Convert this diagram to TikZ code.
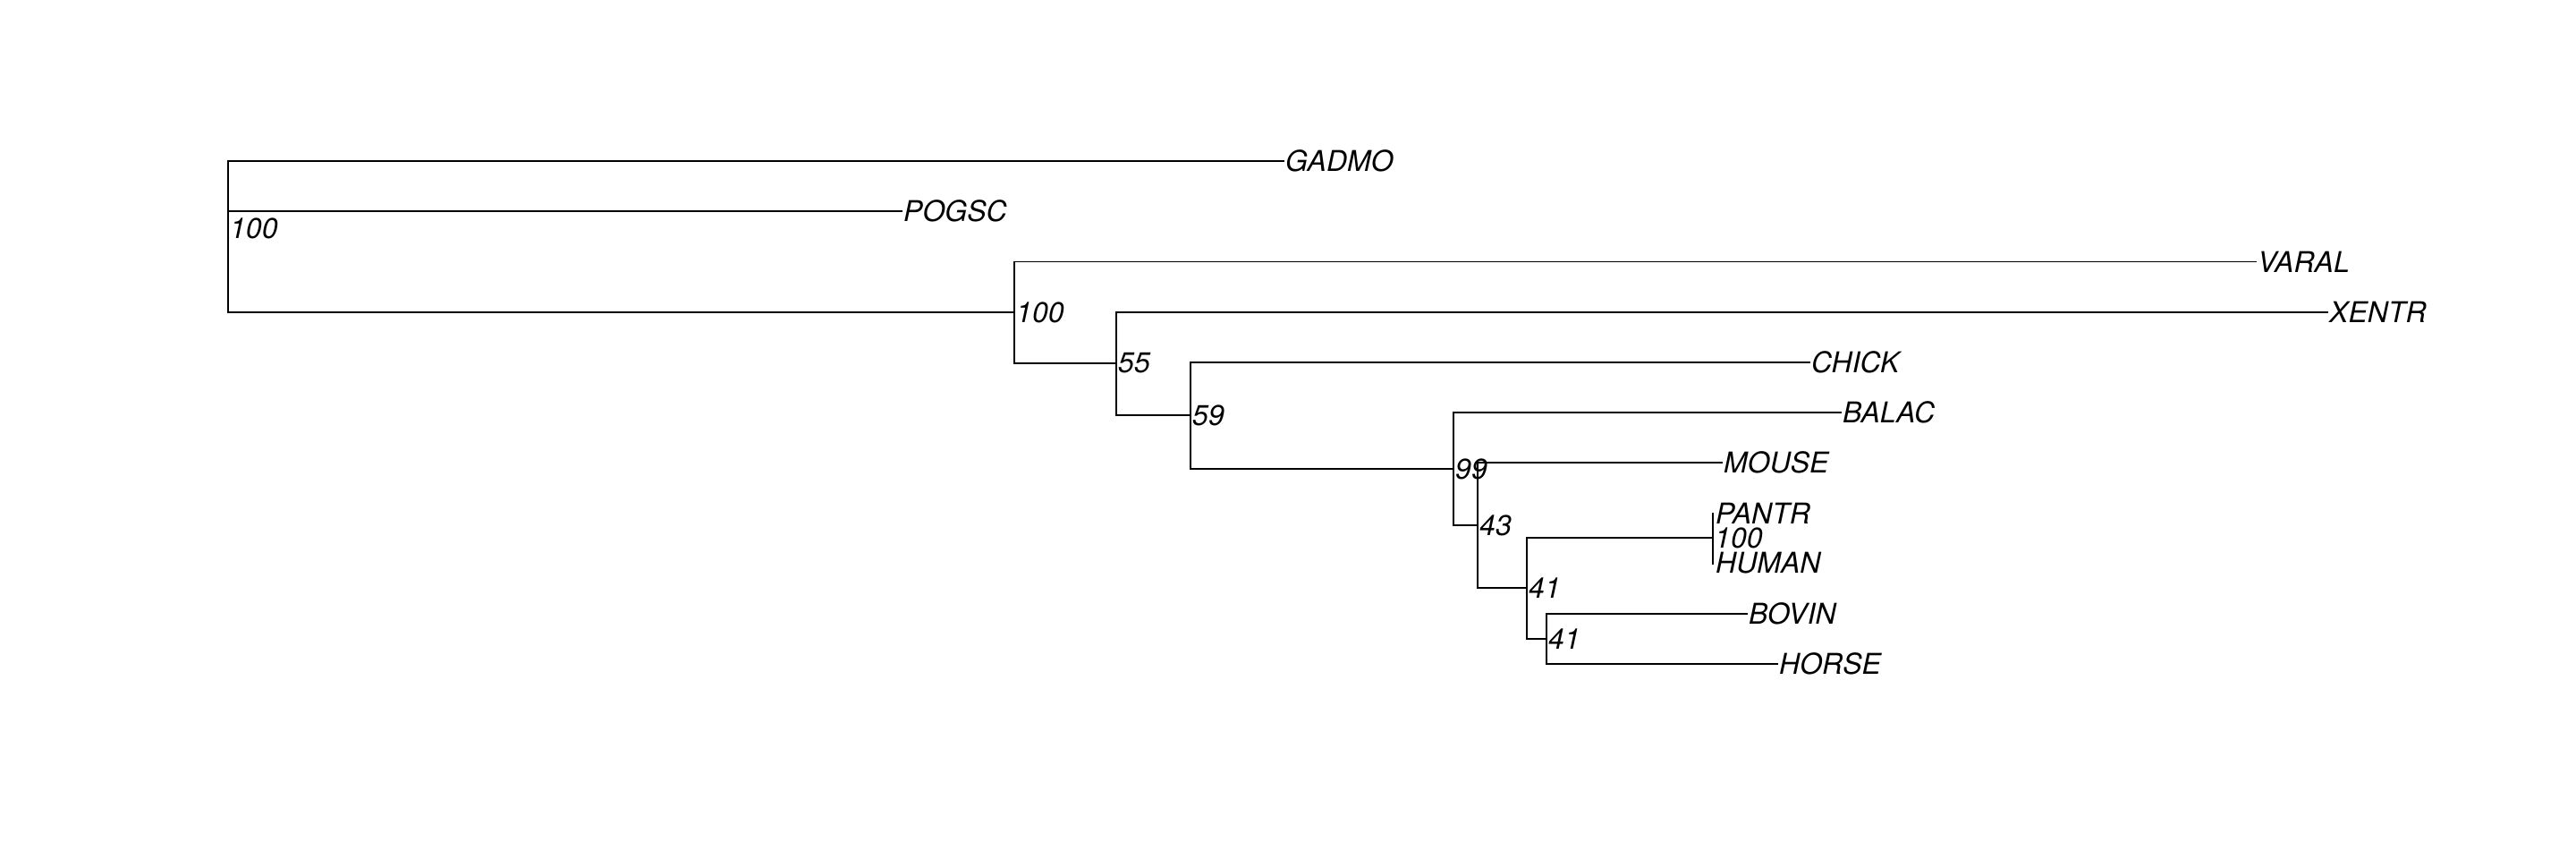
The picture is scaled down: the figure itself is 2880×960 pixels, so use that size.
\documentclass[tikz,border=0pt]{standalone}
\usepackage{fontspec}
\setmainfont{TeX Gyre Heros}
\tikzset{
  edge/.style={line width=1.8pt, line cap=rect},
  tiplab/.style={anchor=west, inner sep=2pt, font=\fontsize{32}{37}\selectfont\itshape},
  nodelab/.style={anchor=west, inner sep=2pt, font=\fontsize{32}{37}\selectfont\itshape}
}
\begin{document}
\begin{tikzpicture}[x=1pt,y=-1pt]
\useasboundingbox (0,0) rectangle (2880,960);
% internal nodes
\coordinate (r)    at (255,255);
\coordinate (n100) at (1134,349);
\coordinate (n55)  at (1248,406);
\coordinate (n59)  at (1331,464);
\coordinate (n99)  at (1625,524);
\coordinate (n43)  at (1652,587);
\coordinate (n41a) at (1707,657);
\coordinate (nph)  at (1915,601);
\coordinate (n41b) at (1729,714);
% tips
\coordinate (gadmo) at (1435,180);
\coordinate (pogsc) at (1008,236.2);
\coordinate (varal) at (2522,292.4);
\coordinate (xentr) at (2602,348.6);
\coordinate (chick) at (2023,404.8);
\coordinate (balac) at (2058,461);
\coordinate (mouse) at (1925,517.2);
\coordinate (pantr) at (1916,573.4);
\coordinate (human) at (1916,629.6);
\coordinate (bovin) at (1953,685.8);
\coordinate (horse) at (1987,742);
% vertical bars
\draw[edge] (r |- gadmo) -- (r |- n100);
\draw[edge] (n100 |- varal) -- (n100 |- n55);
\draw[edge] (n55 |- xentr) -- (n55 |- n59);
\draw[edge] (n59 |- chick) -- (n59 |- n99);
\draw[edge] (n99 |- balac) -- (n99 |- n43);
\draw[edge] (n43 |- mouse) -- (n43 |- n41a);
\draw[edge] (n41a |- nph) -- (n41a |- n41b);
\draw[edge] (nph |- pantr) -- (nph |- human);
\draw[edge] (n41b |- bovin) -- (n41b |- horse);
% horizontal branches
\draw[edge] (r |- gadmo) -- (gadmo);
\draw[edge] (r |- pogsc) -- (pogsc);
\draw[edge] (r |- n100) -- (n100);
\draw[edge] (n100 |- varal) -- (varal);
\draw[edge] (n100 |- n55) -- (n55);
\draw[edge] (n55 |- xentr) -- (xentr);
\draw[edge] (n55 |- n59) -- (n59);
\draw[edge] (n59 |- chick) -- (chick);
\draw[edge] (n59 |- n99) -- (n99);
\draw[edge] (n99 |- balac) -- (balac);
\draw[edge] (n99 |- n43) -- (n43);
\draw[edge] (n43 |- mouse) -- (mouse);
\draw[edge] (n43 |- n41a) -- (n41a);
\draw[edge] (n41a |- nph) -- (nph);
\draw[edge] (n41a |- n41b) -- (n41b);
\draw[edge] (n41b |- bovin) -- (bovin);
\draw[edge] (n41b |- horse) -- (horse);
% tip labels
\node[tiplab] (lgadmo) at (gadmo) {GADMO};
\node[tiplab] (lpogsc) at (pogsc) {POGSC};
\node[tiplab] (lvaral) at (varal) {VARAL};
\node[tiplab] (lxentr) at (xentr) {XENTR};
\node[tiplab] (lchick) at (chick) {CHICK};
\node[tiplab] (lbalac) at (balac) {BALAC};
\node[tiplab] (lmouse) at (mouse) {MOUSE};
\node[tiplab] (lpantr) at (pantr) {PANTR};
\node[tiplab] (lhuman) at (human) {HUMAN};
\node[tiplab] (lbovin) at (bovin) {BOVIN};
\node[tiplab] (lhorse) at (horse) {HORSE};
% support labels
\node[nodelab] (sr)    at (r)    {100};
\node[nodelab] (s100)  at (n100) {100};
\node[nodelab] (s55)   at (n55)  {55};
\node[nodelab] (s59)   at (n59)  {59};
\node[nodelab] (s99)   at (n99)  {99};
\node[nodelab] (s43)   at (n43)  {43};
\node[nodelab] (s41a)  at (n41a) {41};
\node[nodelab] (sph)   at (nph)  {100};
\node[nodelab] (s41b)  at (n41b) {41};
\end{tikzpicture}
\end{document}
